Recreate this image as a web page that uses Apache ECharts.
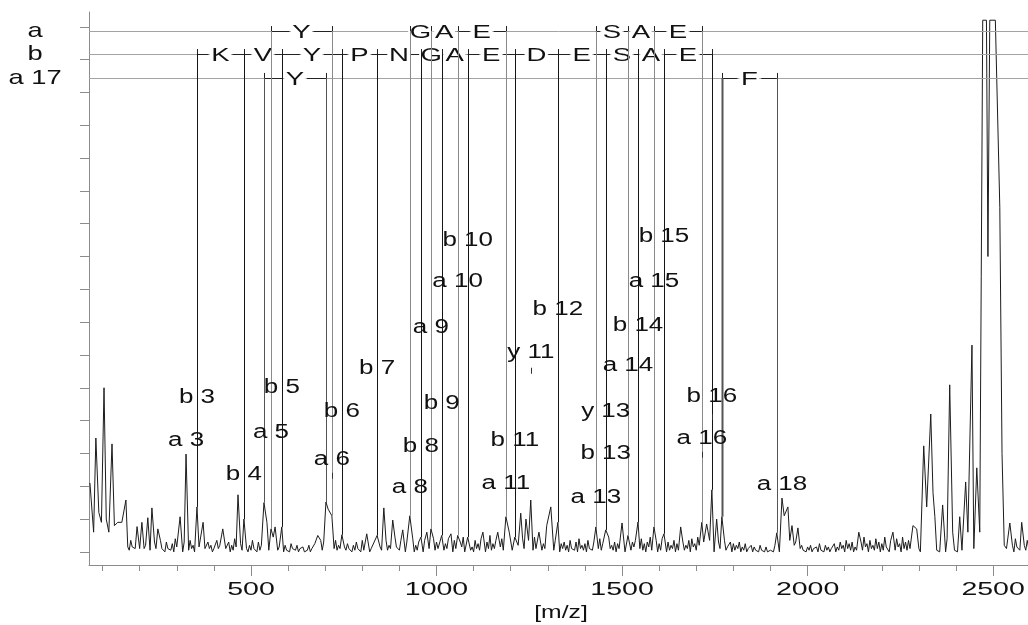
<!DOCTYPE html>
<html>
<head>
<meta charset="utf-8">
<title>Fragment ion spectrum</title>
<script src="https://cdn.jsdelivr.net/npm/echarts@6/dist/echarts.min.js"></script>
<style>
  html, body { margin: 0; padding: 0; background: #fff; }
  #spectrum { width: 1028px; height: 625px; }
</style>
</head>
<body>
<div id="spectrum"></div>
<script>
// axis range
const xMin = 63.5;
const xMax = 2594;
const yMin = -0.4;
const yMax = 16.45;

// baseline noise, one reading every 8 m/z starting at 64 (null = off scale)
const noiseStart = 64;
const noiseStep = 8;
const noise = [
  0.9, 0.3, 0.5, 0.8, 0.4, 0.7, 0.2, 0.6, 0.3, 0.5, 0.2, 0.4, 0.3, 0.15, 0.35, 0.2, 0.4, 0.1, 0.3, 0.2,
  0.25, 0.1, 0.3, 0.2, 0.35, 0.15, 0.3, 0.1, 0.25, 0.4, 0.2, 0.15, 0.3, 0.1, 0.35, 0.2, 0.3, 0.15, 0.25, 0.1,
  0.3, 0.2, 0.1, 0.35, 0.2, 0.25, 0.1, 0.3, 0.2, 0.4, 0.15, 0.25, 0.3, 0.1, 0.2, 0.35, 0.15, 0.3, 0.2, 0.4,
  0.3, 0.2, 0.45, 0.25, 0.15, 0.3, 0.2, 0.1, 0.25, 0.15, 0.2, 0.1, 0.15, 0.05, 0.2, 0.1, 0.25, 0.15, 0.35, 0.3,
  0.4, 0.5, 0.3, 0.35, 0.2, 0.3, 0.15, 0.25, 0.1, 0.2, 0.3, 0.15, 0.35, 0.2, 0.25, 0.1, 0.3, 0.2, 0.15, 0.3,
  0.35, 0.2, 0.3, 0.45, 0.2, 0.35, 0.15, 0.3, 0.25, 0.4, 0.2, 0.3, 0.15, 0.35, 0.25, 0.2, 0.4, 0.3, 0.15, 0.3,
  0.25, 0.4, 0.2, 0.35, 0.15, 0.3, 0.45, 0.2, 0.3, 0.15, 0.35, 0.25, 0.4, 0.2, 0.3, 0.5, 0.25, 0.35, 0.2, 0.4,
  0.3, 0.45, 0.2, 0.35, 0.5, 0.3, 0.4, 0.25, 0.35, 0.2, 0.45, 0.3, 0.55, 0.25, 0.4, 0.3, 0.2, 0.35, 0.45, 0.25,
  0.3, 0.2, 0.35, 0.15, 0.3, 0.4, 0.2, 0.25, 0.35, 0.15, 0.3, 0.2, 0.4, 0.25, 0.35, 0.45, 0.2, 0.3, 0.25, 0.4,
  0.3, 0.2, 0.45, 0.3, 0.35, 0.2, 0.4, 0.25, 0.3, 0.45, 0.2, 0.35, 0.25, 0.4, 0.15, 0.3, 0.2, 0.35, 0.25, 0.45,
  0.3, 0.2, 0.35, 0.4, 0.25, 0.45, 0.5, 0.3, 0.55, 0.35, 0.4, 0.25, 0.3, 0.2, 0.35, 0.15, 0.3, 0.25, 0.2, 0.3,
  0.15, 0.25, 0.1, 0.2, 0.15, 0.1, 0.2, 0.1, 0.15, 0.05, 0.1, 0.2, 0.15, 0.1, 0.3, 0.45, 0.35, 0.5, 0.3, 0.4,
  0.2, 0.1, 0.15, 0.2, 0.1, 0.15, 0.25, 0.1, 0.2, 0.15, 0.1, 0.25, 0.15, 0.3, 0.2, 0.35, 0.25, 0.3, 0.15, 0.4,
  0.3, 0.45, 0.25, 0.35, 0.2, 0.4, 0.3, 0.25, 0.45, 0.2, 0.35, 0.3, 0.4, 0.25, 0.45, 0.3, 0.35, 0.5, 0.4, 0.55,
  0.0, 0.4, 0.3, 0.6, 0.2, 0.5, 0.05, 0.3, 0.1, 0.4, 0.05, 0.3, 0.0, 0.25, 0.05, 0.2, 0.0, 0.3, 0.1, 0.4,
  0.6, null, null, null, null, null, null, null, null, 0.1, 0.5, 0.2, 0.4, 0.1, 0.3, 0.2, 0.35
];
// the readings in between, every 8 m/z starting at 68
const noiseMidStart = 68;
const noiseMid = [
  0.4, 0.2, 0.3, 0.5, 0.2, 0.3, 0.1, 0.2, 0.15, 0.3, 0.1, 0.2, 0.1, 0.05, 0.15, 0.1, 0.2, 0.05, 0.1, 0.05,
  0.05, 0.0, 0.1, 0.05, 0.1, 0.0, 0.1, 0.05, 0.0, 0.15, 0.05, 0.0, 0.1, 0.05, 0.1, 0.0, 0.05, 0.1, 0.0, 0.05,
  0.1, 0.0, 0.05, 0.1, 0.0, 0.05, 0.1, 0.0, 0.05, 0.15, 0.0, 0.05, 0.1, 0.0, 0.05, 0.1, 0.0, 0.05, 0.1, 0.0,
  0.05, 0.1, 0.0, 0.05, 0.1, 0.0, 0.05, 0.0, 0.1, 0.05, 0.0, 0.05, 0.0, 0.05, 0.0, 0.05, 0.1, 0.0, 0.05, 0.1,
  0.15, 0.2, 0.1, 0.05, 0.1, 0.0, 0.05, 0.1, 0.0, 0.05, 0.1, 0.0, 0.05, 0.1, 0.0, 0.05, 0.1, 0.0, 0.05, 0.1,
  0.05, 0.1, 0.0, 0.15, 0.05, 0.1, 0.0, 0.05, 0.1, 0.0, 0.05, 0.1, 0.0, 0.05, 0.1, 0.0, 0.05, 0.1, 0.0, 0.05,
  0.1, 0.05, 0.0, 0.1, 0.05, 0.15, 0.0, 0.1, 0.05, 0.0, 0.1, 0.05, 0.15, 0.0, 0.1, 0.05, 0.1, 0.0, 0.15, 0.05,
  0.1, 0.15, 0.05, 0.1, 0.2, 0.05, 0.1, 0.0, 0.15, 0.05, 0.1, 0.2, 0.05, 0.1, 0.0, 0.15, 0.05, 0.1, 0.0, 0.1,
  0.05, 0.0, 0.1, 0.05, 0.0, 0.1, 0.05, 0.0, 0.1, 0.05, 0.0, 0.1, 0.05, 0.15, 0.0, 0.1, 0.05, 0.0, 0.1, 0.05,
  0.0, 0.1, 0.05, 0.15, 0.0, 0.1, 0.05, 0.0, 0.15, 0.05, 0.1, 0.0, 0.05, 0.1, 0.0, 0.05, 0.1, 0.0, 0.05, 0.1,
  0.05, 0.1, 0.0, 0.15, 0.05, 0.2, 0.1, 0.15, 0.05, 0.1, 0.0, 0.05, 0.1, 0.0, 0.05, 0.1, 0.0, 0.05, 0.1, 0.0,
  0.05, 0.0, 0.05, 0.0, 0.05, 0.0, 0.05, 0.0, 0.0, 0.05, 0.0, 0.05, 0.0, 0.05, 0.1, 0.15, 0.1, 0.2, 0.05, 0.1,
  0.05, 0.0, 0.05, 0.0, 0.05, 0.0, 0.05, 0.0, 0.05, 0.0, 0.05, 0.0, 0.05, 0.1, 0.0, 0.1, 0.05, 0.0, 0.05, 0.1,
  0.05, 0.15, 0.0, 0.1, 0.05, 0.1, 0.0, 0.05, 0.15, 0.0, 0.1, 0.05, 0.15, 0.0, 0.1, 0.05, 0.1, 0.15, 0.05, 0.1,
  0.0, 0.05, 0.0, 0.1, 0.0, 0.05, 0.0, 0.05, 0.0, 0.1, 0.0, 0.05, 0.0, 0.05, 0.0, 0.05, 0.0, 0.05, 0.0, 0.1,
  0.1, null, null, null, null, null, null, null, null, 0.05, 0.1, 0.0, 0.15, 0.05, 0.1, 0.05, 0.1
];

// resolved peaks [m/z, intensity]
const peaks = [
  [66, 2.1], [76, 0.6], [82, 3.47], [90, 1.2], [97, 0.9], [104, 5.0], [110, 1.0], [117, 0.6],
  [125.5, 3.29], [132, 0.8], [141, 0.9], [152, 0.9], [163, 1.58], [193, 0.77], [206, 0.9], [222, 1.04],
  [233, 1.34], [249, 0.7], [309, 1.07], [325, 2.98], [354.5, 1.37], [371, 0.9], [424, 0.7], [465, 1.74],
  [481, 1.0], [535, 1.5], [543, 0.9], [554, 0.7], [565, 0.76], [583, 0.76], [680, 0.5], [702, 1.52],
  [708, 1.3], [718, 1.1], [745, 0.52], [812, 0.55], [840, 0.5], [858, 1.34], [882, 0.97], [909, 0.67],
  [928, 1.1], [958, 0.45], [974, 0.6], [985, 0.7], [1014, 0.5], [1039, 0.55], [1057, 0.5], [1084, 0.45],
  [1125, 0.6], [1165, 0.6], [1187, 1.07], [1196, 0.6], [1211, 0.45], [1227, 1.18], [1241, 1.0], [1254, 1.58],
  [1276, 0.6], [1297, 0.8], [1308, 1.37], [1327, 0.9], [1429.5, 0.76], [1456, 0.67], [1500, 0.88], [1516, 0.5],
  [1543, 0.91], [1586, 0.76], [1613, 0.55], [1658, 0.76], [1715, 0.9], [1728, 0.85], [1742, 1.89], [1755, 1.0],
  [1769, 1.07], [1917, 0.58], [1931, 1.64], [1937, 1.1], [1947, 1.37], [1958, 0.8], [1974, 0.73], [2138, 0.6],
  [2230, 0.6], [2284, 0.8], [2294, 0.7], [2313, 3.23], [2321, 1.37], [2332, 4.2], [2338, 1.8], [2343, 1.07],
  [2364, 1.43], [2383, 5.09], [2391, 0.6], [2410, 1.07], [2426, 2.13], [2432, 0.6], [2443, 6.3], [2456, 2.56],
  [2472, 16.2], [2482, 16.2], [2486, 9.0], [2491, 16.2], [2506, 16.2], [2518, 10.5], [2524, 3.0], [2530, 0.2],
  [2545, 0.88], [2577, 0.9]
];

// ladder rows
const rowNames = ['a', 'b', 'a 17'];
const rowLevels = [15.87, 15.17, 14.44];

// fragment ion lines [m/z, intensity where line stops, row]
const ionLines = [
  [354.5, 1.37, 1], [481, 1.0, 1], [583, 0.76, 1], [745, 0.52, 1], [840, 0.5, 1], [958, 0.45, 1],
  [1014, 0.5, 1], [1084, 0.45, 1], [1211, 0.45, 1], [1327, 0.9, 1], [1456, 0.67, 1], [1543, 0.91, 1],
  [1613, 0.55, 1], [1742, 1.89, 1],
  [554, 0.7, 0], [718, 1.1, 0], [928, 1.1, 0], [985, 0.7, 0], [1057, 0.5, 0], [1187, 1.07, 0],
  [1429.5, 0.76, 0], [1516, 0.5, 0], [1586, 0.76, 0], [1715, 0.9, 0],
  [535, 1.5, 2], [702, 1.52, 2], [1769, 1.07, 2], [1917, 0.58, 2]
];

// sequence ladder [from m/z, to m/z, row] and residue letters
const ladderSegments = [
  [554, 718, 0], [928, 985, 0], [985, 1057, 0], [1057, 1187, 0], [1429.5, 1516, 0], [1516, 1586, 0], [1586, 1715, 0],
  [354.5, 481, 1], [481, 583, 1], [583, 745, 1], [745, 840, 1], [840, 958, 1], [958, 1014, 1], [1014, 1084, 1],
  [1084, 1211, 1], [1211, 1327, 1], [1327, 1456, 1], [1456, 1543, 1], [1543, 1613, 1], [1613, 1742, 1],
  [535, 702, 2], [1769, 1917, 2]
];
const ladderResidues = [
  'Y', 'G', 'A', 'E', 'S', 'A', 'E',
  'K', 'V', 'Y', 'P', 'N', 'G', 'A', 'E', 'D', 'E', 'S', 'A', 'E',
  'Y', 'F'
];

// ion labels
const ionLabelTexts = ['a 3', 'b 3', 'b 4', 'a 5', 'b 5', 'a 6', 'b 6', 'b 7', 'a 8', 'b 8', 'a 9', 'b 9', 'a 10', 'b 10',
  'a 11', 'b 11', 'y 11', 'b 12', 'a 13', 'b 13', 'y 13', 'a 14', 'b 14', 'a 15', 'b 15', 'a 16', 'b 16', 'a 18'];
const ionLabelMz = [325, 354.5, 481, 554, 583, 718, 745, 840, 928, 958, 985, 1014, 1057, 1084,
  1187, 1211, 1254, 1327, 1429.5, 1456, 1456, 1516, 1543, 1586, 1613, 1715, 1742, 1931];
const ionLabelLevel = [3.38, 4.69, 2.35, 3.63, 5.0, 2.83, 4.27, 5.58, 1.95, 3.2, 6.83, 4.51, 8.23, 9.48,
  2.07, 3.38, 6.09, 7.4, 1.65, 2.99, 4.27, 5.67, 6.89, 8.23, 9.6, 3.47, 4.72, 2.04];

// small peak marks under some labels [m/z, intensity]
const peakMarks = [[718, 2.41], [1254, 5.61], [1715, 3.05], [1742, 4.2]];

const minorTicks = [100, 200, 300, 400, 500, 600, 700, 800, 900, 1000, 1100, 1200, 1300, 1400, 1500,
  1600, 1700, 1800, 1900, 2000, 2100, 2200, 2300, 2400, 2500];
const tickLabels = [500, 1000, 1500, 2000, 2500];
const yTicks = [0, 1, 2, 3, 4, 5, 6, 7, 8, 9, 10, 11, 12, 13, 14, 15, 16];

// spectrum = peaks + baseline readings that are not under a peak
const spectrum = peaks.map(p => [p[0], p[1]]);
const addBaseline = (list, start) => {
  list.forEach((v, i) => {
    const mz = start + i * noiseStep;
    if (v === null) return;
    if (peaks.some(p => Math.abs(p[0] - mz) <= 4.5)) return;
    spectrum.push([mz, v]);
  });
};
addBaseline(noise, noiseStart);
addBaseline(noiseMid, noiseMidStart);
spectrum.sort((a, b) => a[0] - b[0]);

const FONT = 'Liberation Sans';
const axisGray = '#8c8c8c';
const crisp = v => Math.round(v) + 0.5;

const makeText = (x, y, text, size, sx, extra) => Object.assign({
  type: 'text',
  x: x,
  y: y,
  scaleX: sx,
  style: Object.assign({
    text: text,
    fontSize: size,
    fontFamily: FONT,
    fill: '#111',
    align: 'center',
    verticalAlign: 'middle',
    textAlign: 'center',
    textVerticalAlign: 'middle'
  }, extra || {})
});

const renderRows = (params, api) => {
  const lv = rowLevels[params.dataIndex];
  const left = api.coord([xMin, lv]);
  const right = api.coord([xMax, lv]);
  const y = crisp(left[1]);
  return {
    type: 'group',
    children: [
      { type: 'line', shape: { x1: left[0], y1: y, x2: right[0], y2: y }, style: { stroke: '#a3a3a3', lineWidth: 1 } },
      makeText(left[0] - 54, y, rowNames[params.dataIndex], 21, 1.3)
    ]
  };
};

const renderLadder = (params, api) => {
  const seg = ladderSegments[params.dataIndex];
  const lv = rowLevels[seg[2]];
  const p1 = api.coord([seg[0], lv]);
  const p2 = api.coord([seg[1], lv]);
  const y = crisp(p1[1]);
  const mid = (p1[0] + p2[0]) / 2;
  const half = 12;
  const children = [];
  if (mid - half > p1[0] + 2) {
    children.push({ type: 'line', shape: { x1: p1[0], y1: y, x2: mid - half, y2: y }, style: { stroke: '#222', lineWidth: 1 } });
  }
  if (p2[0] - 2 > mid + half) {
    children.push({ type: 'line', shape: { x1: mid + half, y1: y, x2: p2[0], y2: y }, style: { stroke: '#222', lineWidth: 1 } });
  }
  children.push(makeText(mid, y + 1, ladderResidues[params.dataIndex], 19, 1.45,
    { backgroundColor: '#fff', padding: [0, 1] }));
  return { type: 'group', children: children };
};

const renderIonLines = (params, api) => {
  const mz = api.value(0);
  const row = api.value(2);
  const top = api.coord([mz, rowLevels[row]]);
  const bottom = api.coord([mz, api.value(1)]);
  const x = crisp(top[0]);
  const color = row === 1 ? '#151515' : (row === 0 ? '#8a8a8a' : '#555');
  const width = (row === 2 && mz > 1700 && mz < 1800) ? 2 : 1;
  return {
    type: 'group',
    children: [
      { type: 'line', shape: { x1: x, y1: top[1] - 5, x2: x, y2: top[1] + 5 }, style: { stroke: '#222', lineWidth: 1 } },
      { type: 'line', shape: { x1: x, y1: top[1], x2: x, y2: bottom[1] }, style: { stroke: color, lineWidth: width } }
    ]
  };
};

const renderMarks = (params, api) => {
  const p = api.coord([api.value(0), api.value(1)]);
  const x = crisp(p[0]);
  return { type: 'line', shape: { x1: x, y1: p[1], x2: x, y2: p[1] + 6 }, style: { stroke: '#333', lineWidth: 1 } };
};

const renderLabels = (params, api) => {
  const p = api.coord([api.value(0), api.value(1)]);
  return makeText(p[0], p[1], ionLabelTexts[params.dataIndex], 20, 1.3);
};

const renderTickLabels = (params, api) => {
  const p = api.coord([api.value(0), yMin]);
  return makeText(p[0], p[1] + 25, String(tickLabels[params.dataIndex]), 19, 1.5);
};

const chart = echarts.init(document.getElementById('spectrum'), null, { renderer: 'canvas' });

chart.setOption({
  animation: false,
  backgroundColor: '#fff',
  grid: { left: 89, right: 0, top: 12, bottom: 60 },
  xAxis: [
    {
      type: 'value', min: xMin, max: xMax,
      axisLine: { show: true, onZero: false, lineStyle: { color: axisGray, width: 1 } },
      axisTick: { show: true, customValues: minorTicks, length: 6, lineStyle: { color: axisGray } },
      axisLabel: { show: false },
      splitLine: { show: false }
    },
    {
      type: 'value', min: xMin, max: xMax, position: 'bottom',
      axisLine: { show: false, onZero: false },
      axisTick: { show: true, customValues: tickLabels, length: 11, lineStyle: { color: axisGray } },
      axisLabel: { show: false },
      splitLine: { show: false }
    }
  ],
  yAxis: {
    type: 'value', min: yMin, max: yMax,
    axisLine: { show: true, onZero: false, lineStyle: { color: axisGray, width: 1 } },
    axisTick: { show: true, customValues: yTicks, length: 9, lineStyle: { color: axisGray } },
    axisLabel: { show: false },
    splitLine: { show: false }
  },
  graphic: [
    {
      type: 'text', x: 561, y: 613, scaleX: 1.3,
      style: {
        text: '[m/z]', fontSize: 19, fontFamily: FONT, fill: '#111',
        align: 'center', verticalAlign: 'middle', textAlign: 'center', textVerticalAlign: 'middle'
      }
    }
  ],
  series: [
    {
      name: 'spectrum', type: 'line', data: spectrum, symbol: 'none', showSymbol: false,
      sampling: 'none', clip: true, z: 2,
      lineStyle: { color: '#1c1c1c', width: 1 }
    },
    {
      name: 'rows', type: 'custom', z: 3,
      data: rowLevels.map(lv => [xMin, lv]),
      renderItem: renderRows
    },
    {
      name: 'ladder', type: 'custom', z: 4,
      data: ladderSegments.map(s => [s[0], rowLevels[s[2]], s[1]]),
      encode: { x: [0, 2], y: 1 },
      renderItem: renderLadder
    },
    {
      name: 'ions', type: 'custom', z: 5,
      data: ionLines,
      encode: { x: 0, y: 1 },
      renderItem: renderIonLines
    },
    {
      name: 'marks', type: 'custom', z: 5,
      data: peakMarks,
      renderItem: renderMarks
    },
    {
      name: 'labels', type: 'custom', z: 6,
      data: ionLabelMz.map((mz, i) => [mz, ionLabelLevel[i]]),
      renderItem: renderLabels
    },
    {
      name: 'tick labels', type: 'custom', z: 6,
      data: tickLabels.map(v => [v, 0]),
      renderItem: renderTickLabels
    }
  ]
});
</script>
</body>
</html>
